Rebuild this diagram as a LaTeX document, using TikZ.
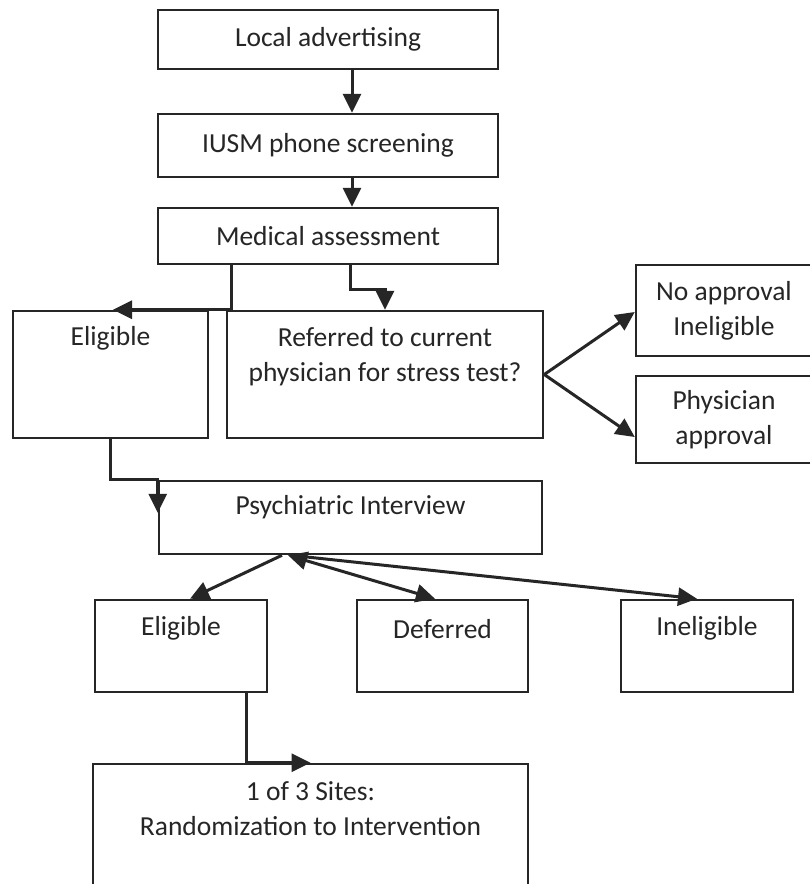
\documentclass[tikz,border=0pt]{standalone}
\usepackage{fontspec}
\setmainfont{Carlito}
\usetikzlibrary{arrows.meta}
\usetikzlibrary{calc}

\begin{document}
\begin{tikzpicture}[x=1pt,y=-1pt,
  box/.style={draw=black!85,line width=2.5pt,rectangle,inner sep=0pt,fill=white},
  txt/.style={align=center,inner sep=0pt,text=black!85,font=\fontsize{27.5}{35}\selectfont},
  arr/.style={draw=black!85,line width=3pt,-{Triangle[length=19pt,width=18pt]}}]
\fill[white] (0,0) rectangle (810,884);
\useasboundingbox (0,0) rectangle (810,884);

% recruitment steps
\node[box,minimum width=340pt,minimum height=59pt] (adv) at (328,39.5) {};
\node[box,minimum width=340pt,minimum height=63pt] (phone) at (328,145.5) {};
\node[box,minimum width=340pt,minimum height=56pt] (med) at (328,236) {};
\node[box,minimum width=195pt,minimum height=127pt] (eligA) at (110.5,374.5) {};
\node[box,minimum width=316pt,minimum height=127pt] (refer) at (385,374.5) {};
\node[box,minimum width=176pt,minimum height=91pt] (noappr) at (724,310.5) {};
\node[box,minimum width=176pt,minimum height=87pt] (physappr) at (724,419.5) {};
\node[box,minimum width=383pt,minimum height=73pt] (psych) at (350.5,517.5) {};
\node[box,minimum width=172pt,minimum height=92pt] (eligB) at (181,646) {};
\node[box,minimum width=171pt,minimum height=92pt] (defer) at (442.5,646) {};
\node[box,minimum width=172pt,minimum height=92pt] (inelig) at (707,646) {};
\node[box,minimum width=435pt,minimum height=136pt] (rand) at (310.5,832) {};

\node[txt] (tadv) at (adv) {Local advertising};
\node[txt] (tphone) at (phone) {IUSM phone screening};
\node[txt] (tmed) at (med) {Medical assessment};
\node[txt] (teligA) at ($(eligA.north)+(0,29)$) {Eligible};
\node[txt] (trefer) at ($(refer.north)+(0,47)$) {Referred to current\\physician for stress test?};
\node[txt] (tnoappr) at (noappr) {No approval\\Ineligible};
\node[txt] (tphysappr) at (physappr) {Physician\\approval};
\node[txt] (tpsych) at ($(psych.north)+(0,27)$) {Psychiatric Interview};
\node[txt] (teligB) at ($(eligB.north)+(0,30)$) {Eligible};
\node[txt] (tdefer) at ($(defer.north)+(0,30)$) {Deferred};
\node[txt] (tinelig) at ($(inelig.north)+(0,30)$) {Ineligible};
\node[txt] (trand) at ($(rand.north)+(0,46)$) {1 of 3 Sites:\\Randomization to Intervention};

% connectors
\draw[arr] ([xshift=24pt]adv.south) -- ([xshift=24pt]phone.north);
\draw[arr] ([xshift=24pt]phone.south) -- ([xshift=24pt]med.north);
\draw[arr] ([xshift=-97pt]med.south) |- ([xshift=2.5pt]eligA.north);
\draw[arr] ([xshift=22pt]med.south) -- ++(0,24) -| (refer.north);
\draw[arr] (refer.east) -- ([yshift=-1.5pt]noappr.west);
\draw[arr] (refer.east) -- ([yshift=-17.5pt]physappr.west);
\draw[arr] (eligA.south) |- (psych.north west) -- ([yshift=-33pt]psych.north west);
\draw[arr] ([xshift=-68.5pt]psych.south) -- ([xshift=9pt]eligB.north);
\draw[arr,{Triangle[length=19pt,width=18pt]}-{Triangle[length=19pt,width=18pt]}] ([xshift=-62.5pt]psych.south) -- ([xshift=-7.5pt]defer.north);
\draw[arr] ([xshift=-60pt]psych.south) -- ([xshift=-10pt]inelig.north);
\draw[arr] ([xshift=65pt]eligB.south) |- (rand.north);
\end{tikzpicture}
\end{document}
